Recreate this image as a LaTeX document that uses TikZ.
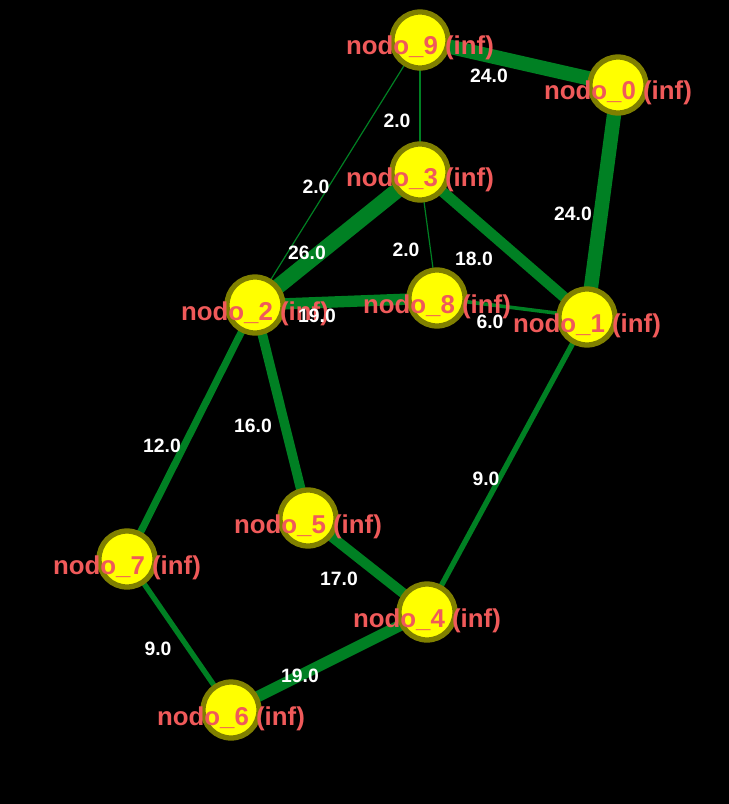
\documentclass[tikz,border=0pt]{standalone}
\usepackage{fontspec}
\setmainfont{Liberation Sans}
\usetikzlibrary{backgrounds}
\pgfdeclarelayer{edges}
\pgfsetlayers{background,edges,main}
\definecolor{edgegreen}{RGB}{0,128,35}
\definecolor{nodeyellow}{RGB}{255,255,0}
\definecolor{nodeolive}{RGB}{128,128,0}
\definecolor{labelred}{RGB}{240,90,90}
\begin{document}
\begin{tikzpicture}[x=0.02cm, y=-0.02cm,
	vertex/.style={circle, fill=nodeyellow, draw=nodeolive, line width=3pt, minimum size=1.12cm, inner sep=0pt},
	vname/.style={text=labelred, font=\bfseries\fontsize{14.7}{16}\selectfont, anchor=base, inner sep=0pt},
	wlabel/.style={text=white, font=\bfseries\fontsize{11}{13}\selectfont, inner sep=0pt},
	link/.style={draw=edgegreen, line width=#1*0.34pt}]
	\useasboundingbox (0,0) rectangle (728,804);
	\begin{scope}[on background layer]
	\fill[black] (-5,-5) rectangle (735,810);
	\end{scope}
	% vertices
	\foreach \i/\x/\y in {0/618/85, 1/587/317, 2/255/305, 3/420/172, 4/427/612, 5/308/518, 6/231/710, 7/127/559, 8/437/298, 9/420/40}
		\node[vertex] (n\i) at (\x,\y) {};
	% weighted links
	\begin{pgfonlayer}{edges}
	\foreach \a/\b/\w in {9/0/24, 0/1/24, 9/3/2, 9/2/2, 3/2/26, 3/8/2, 3/1/18, 2/8/19, 8/1/6, 2/5/16, 2/7/12, 1/4/9, 5/4/17, 7/6/9, 6/4/19}
		\draw[link=\w] (n\a.center) -- (n\b.center);
	\end{pgfonlayer}
	% names
	\foreach \i in {0,...,9}
		\node[vname] (t\i) at ([yshift=-15*0.02cm]n\i.center) {nodo\_\i\ (inf)};
	% weights
	\node[wlabel] (w90) at (489,76) {24.0};
	\node[wlabel] (w01) at (573,214) {24.0};
	\node[wlabel] (w93) at (397,121) {2.0};
	\node[wlabel] (w92) at (316,187) {2.0};
	\node[wlabel] (w32) at (307,253) {26.0};
	\node[wlabel] (w38) at (406,250) {2.0};
	\node[wlabel] (w31) at (474,259) {18.0};
	\node[wlabel] (w28) at (317,316) {19.0};
	\node[wlabel] (w81) at (490,322) {6.0};
	\node[wlabel] (w25) at (253,426) {16.0};
	\node[wlabel] (w27) at (162,446) {12.0};
	\node[wlabel] (w14) at (486,479) {9.0};
	\node[wlabel] (w54) at (339,579) {17.0};
	\node[wlabel] (w76) at (158,649) {9.0};
	\node[wlabel] (w64) at (300,676) {19.0};
\end{tikzpicture}
\end{document}
